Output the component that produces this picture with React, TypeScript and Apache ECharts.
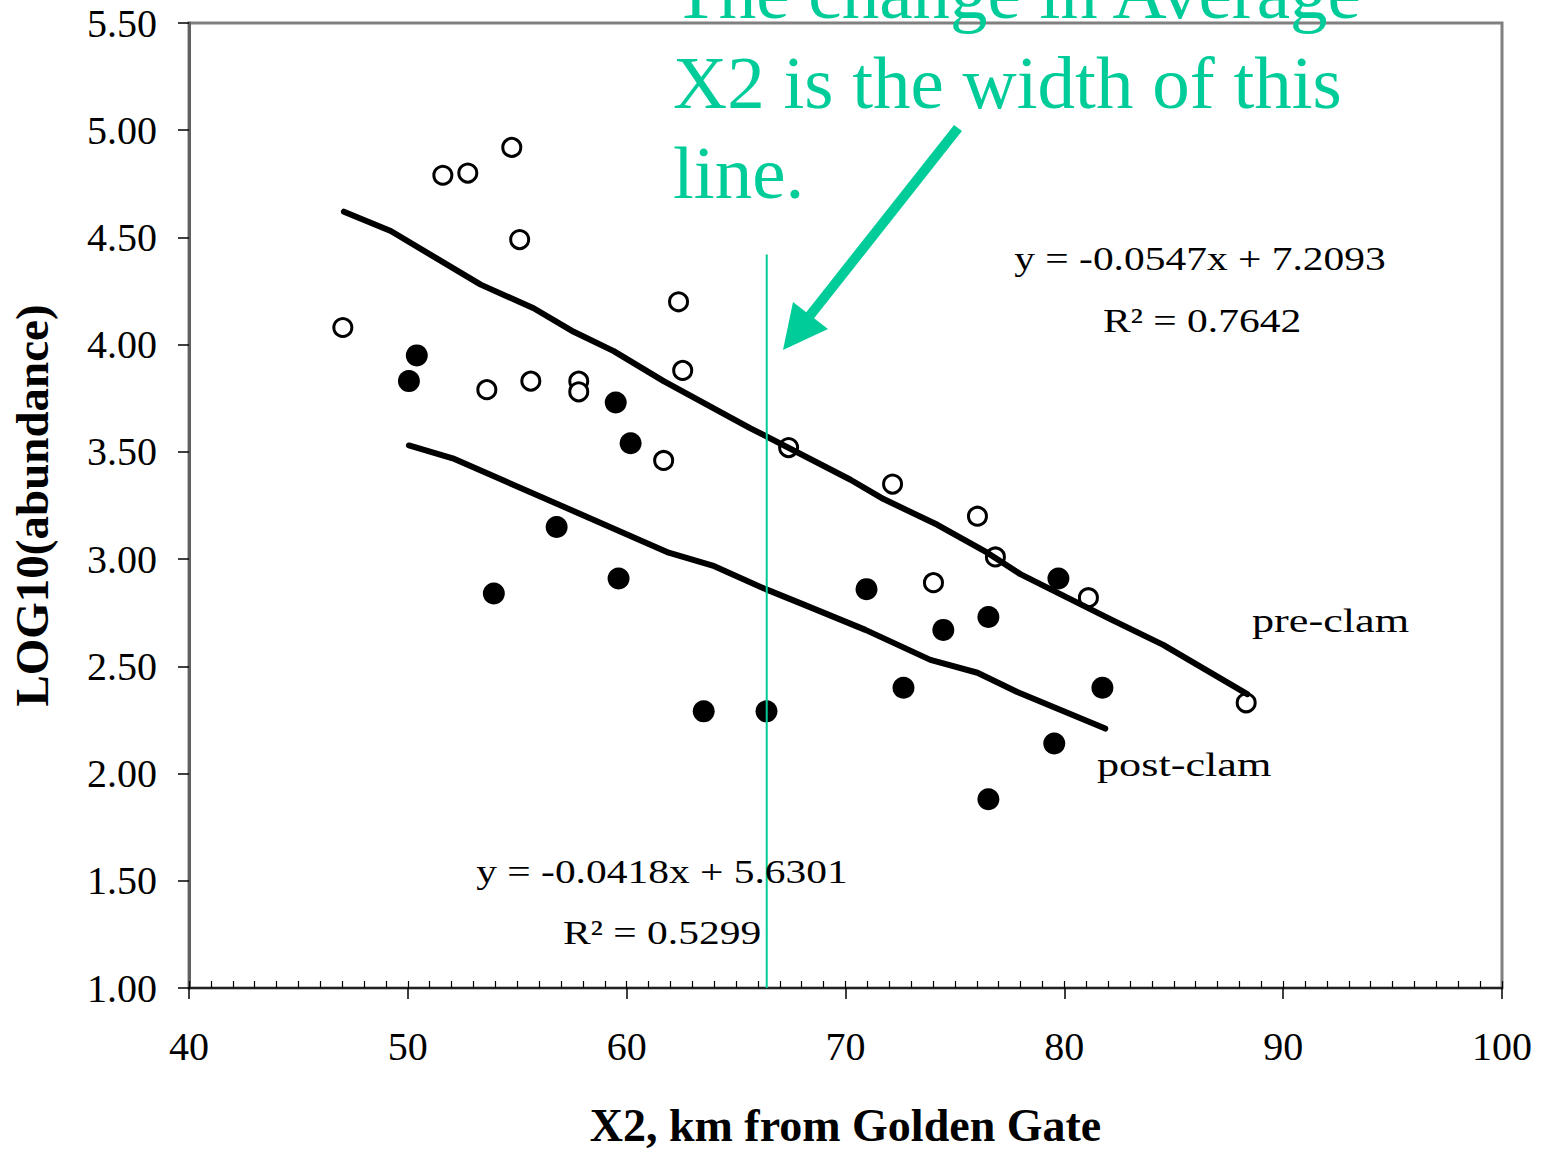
import React, { useEffect, useRef } from "react";
import * as echarts from "echarts";

// Pre-clam observations (open circles)
const preClamX = [47.03, 51.6, 52.74, 54.75, 55.11, 53.61, 55.62, 57.81, 57.81, 61.69, 62.37, 62.56, 67.4, 72.15, 76.03, 76.85, 74.02, 81.1, 88.31];
const preClamY = [4.08, 4.79, 4.8, 4.92, 4.49, 3.79, 3.83, 3.83, 3.78, 3.46, 4.2, 3.88, 3.52, 3.35, 3.2, 3.01, 2.89, 2.82, 2.33];
// Post-clam observations (filled circles)
const postClamX = [50.41, 50.05, 59.5, 60.18, 56.8, 53.93, 59.63, 63.52, 66.39, 70.96, 79.73, 76.53, 74.47, 72.65, 81.74, 79.54, 76.53];
const postClamY = [3.95, 3.83, 3.73, 3.54, 3.15, 2.84, 2.91, 2.29, 2.29, 2.86, 2.91, 2.73, 2.67, 2.4, 2.4, 2.14, 1.88];
// Trend lines as drawn
const preTrendX = [47.08, 49.22, 53.33, 55.75, 57.58, 59.41, 61.69, 65.66, 70.23, 71.74, 74.2, 76.48, 77.99, 82.1, 84.52, 88.36];
const preTrendY = [4.62, 4.53, 4.28, 4.17, 4.06, 3.97, 3.83, 3.61, 3.37, 3.28, 3.16, 3.03, 2.93, 2.72, 2.6, 2.37];
const postTrendX = [50.05, 52.05, 57.67, 61.92, 63.93, 66.35, 68.04, 70.91, 73.88, 76.03, 77.85, 81.87];
const postTrendY = [3.53, 3.47, 3.22, 3.03, 2.97, 2.86, 2.79, 2.67, 2.53, 2.47, 2.38, 2.21];
// Average X2 marker line
const avgX2 = [66.4, 66.4];
const avgLineY = [1.0, 4.42];

const preEquation = "y = -0.0547x + 7.2093";
const preR2 = "R\u00B2 = 0.7642";
const postEquation = "y = -0.0418x + 5.6301";
const postR2 = "R\u00B2 = 0.5299";
const noteLines = ["The change in Average", "X2 is the width of this", "line."];

const SERIF = '"Liberation Serif", "Times New Roman", serif';
const GREEN = "#00CC99";

const zip = (xs: number[], ys: number[]) => xs.map((x, i) => [x, ys[i]]);

export default function App() {
  const ref = useRef<HTMLDivElement>(null);
  useEffect(() => {
    if (!ref.current) return;
    const chart = echarts.init(ref.current, null, { renderer: "svg" });
    const eqText = (text: string, x: number, y: number) => ({
      type: "text",
      x,
      y,
      scaleX: 1.22,
      z: 50,
      style: { text, fill: "#000", fontFamily: SERIF, fontSize: 34, align: "center", verticalAlign: "middle" },
    });
    const lblText = (text: string, x: number, y: number) => ({
      type: "text",
      x,
      y,
      scaleX: 1.3,
      z: 50,
      style: { text, fill: "#000", fontFamily: SERIF, fontSize: 34, align: "left", verticalAlign: "middle" },
    });
    const option: any = {
      animation: false,
      backgroundColor: "#fff",
      grid: {
        left: 188,
        top: 23,
        right: 43,
        bottom: 159,
        show: true,
        borderColor: "#808080",
        borderWidth: 3,
        backgroundColor: "transparent",
      },
      xAxis: [
        {
          type: "value",
          min: 40,
          max: 100,
          interval: 10,
          position: "bottom",
          name: "X2, km from Golden Gate",
          nameLocation: "middle",
          nameGap: 114,
          nameTextStyle: { fontFamily: SERIF, fontWeight: "bold", fontSize: 46, color: "#000" },
          axisLine: { show: true, onZero: false, lineStyle: { color: "#222", width: 2 } },
          axisTick: { show: true, inside: false, length: 11, lineStyle: { color: "#000", width: 1.5 } },
          axisLabel: { margin: 38, fontFamily: SERIF, fontSize: 40, color: "#000" },
          splitLine: { show: false },
        },
        {
          type: "value",
          min: 40,
          max: 100,
          interval: 1,
          position: "bottom",
          axisLine: { show: false, onZero: false },
          axisTick: { show: true, inside: true, length: 7, lineStyle: { color: "#000", width: 1.2 } },
          axisLabel: { show: false },
          splitLine: { show: false },
        },
      ],
      yAxis: {
        type: "value",
        min: 1,
        max: 5.5,
        interval: 0.5,
        name: "LOG10(abundance)",
        nameLocation: "middle",
        nameGap: 134,
        nameRotate: 90,
        nameTextStyle: { fontFamily: SERIF, fontWeight: "bold", fontSize: 47, color: "#000" },
        axisLine: { show: true, onZero: false, lineStyle: { color: "#606060", width: 3 } },
        axisTick: { show: true, inside: false, length: 11, lineStyle: { color: "#000", width: 1.5 } },
        axisLabel: {
          margin: 32,
          fontFamily: SERIF,
          fontSize: 40,
          color: "#000",
          formatter: (v: number) => v.toFixed(2),
        },
        splitLine: { show: false },
      },
      series: [
        {
          name: "pre-clam",
          type: "scatter",
          symbol: "circle",
          symbolSize: 18,
          data: zip(preClamX, preClamY),
          itemStyle: { color: "#fff", borderColor: "#000", borderWidth: 3, opacity: 1 },
          z: 3,
        },
        {
          name: "post-clam",
          type: "scatter",
          symbol: "circle",
          symbolSize: 22,
          data: zip(postClamX, postClamY),
          itemStyle: { color: "#000", opacity: 1 },
          z: 3,
        },
        {
          name: "pre-clam trend",
          type: "line",
          data: zip(preTrendX, preTrendY),
          showSymbol: false,
          symbol: "none",
          lineStyle: { color: "#000", width: 6, cap: "round", join: "round" },
          z: 4,
        },
        {
          name: "post-clam trend",
          type: "line",
          data: zip(postTrendX, postTrendY),
          showSymbol: false,
          symbol: "none",
          lineStyle: { color: "#000", width: 6, cap: "round", join: "round" },
          z: 4,
        },
        {
          name: "average X2",
          type: "line",
          data: zip(avgX2, avgLineY),
          showSymbol: false,
          symbol: "none",
          lineStyle: { color: GREEN, width: 2 },
          z: 5,
        },
      ],
      graphic: [
        ...noteLines.map((t, i) => ({
          type: "text",
          x: 673,
          y: -8 + i * 90,
          z: 60,
          style: { text: t, fill: GREEN, fontFamily: SERIF, fontSize: 75, align: "left", verticalAlign: "middle" },
        })),
        {
          type: "line",
          z: 60,
          shape: { x1: 958, y1: 128, x2: 808, y2: 318 },
          style: { stroke: GREEN, lineWidth: 10 },
        },
        {
          type: "polygon",
          z: 60,
          shape: { points: [[783, 350], [793, 302], [828, 329]] },
          style: { fill: GREEN },
        },
        eqText(preEquation, 1200, 258),
        eqText(preR2, 1202, 320),
        eqText(postEquation, 662, 871),
        eqText(postR2, 662, 932),
        lblText("pre-clam", 1252, 621),
        lblText("post-clam", 1097, 765),
      ],
    };
    chart.setOption(option);
    return () => chart.dispose();
  }, []);
  return (
    <div
      ref={ref}
      style={{ position: "fixed", left: 0, top: 0, width: 1545, height: 1153, background: "#fff" }}
    />
  );
}
